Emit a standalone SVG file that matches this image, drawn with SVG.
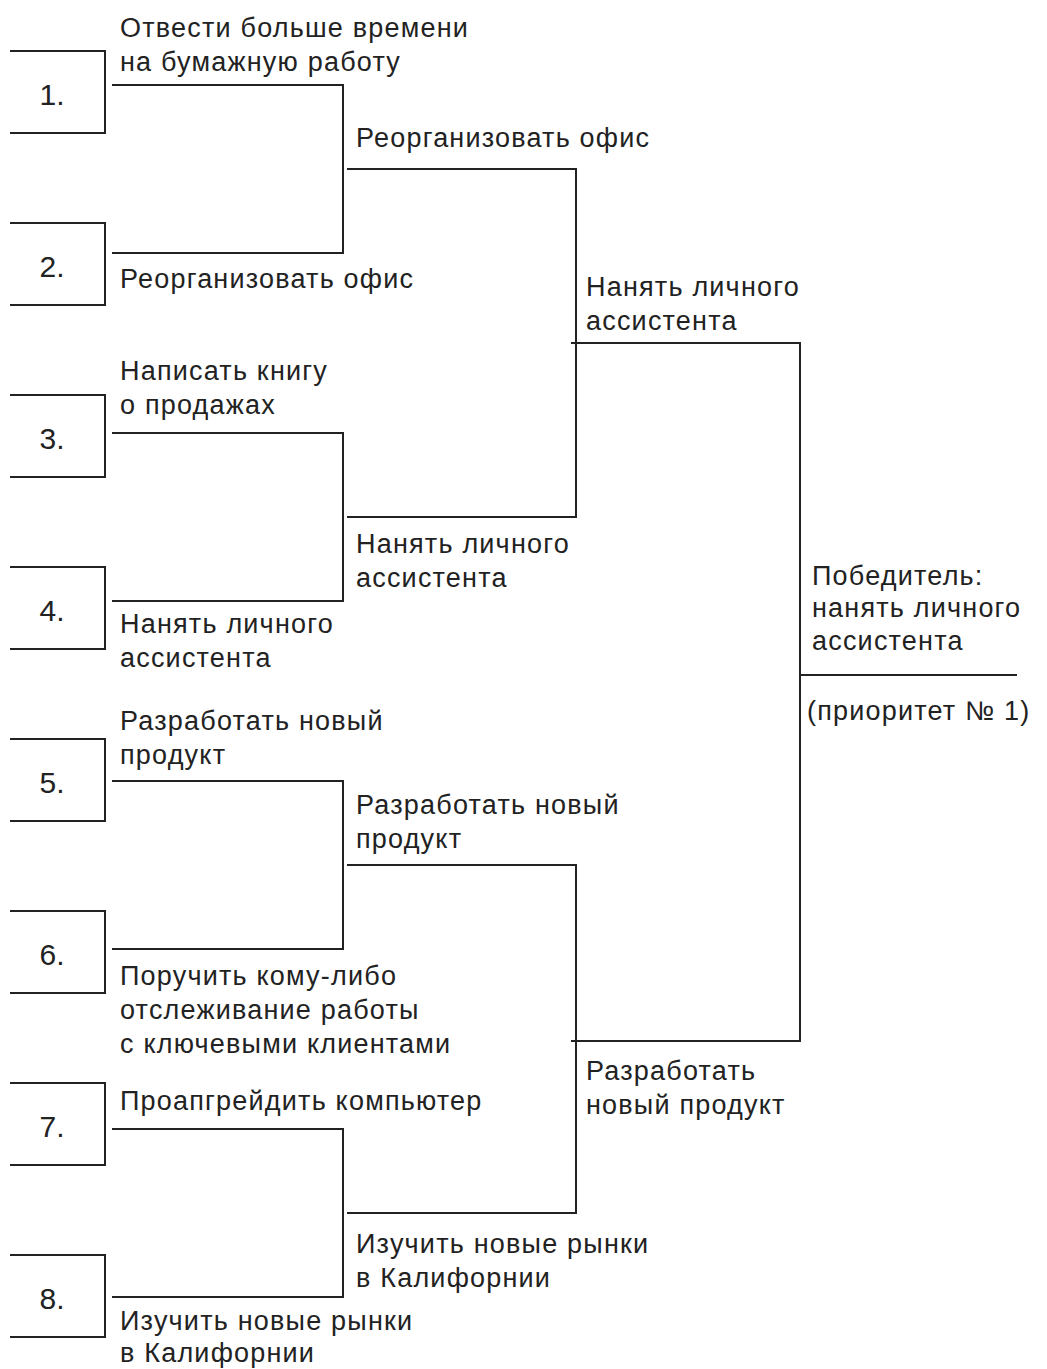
<svg xmlns="http://www.w3.org/2000/svg" width="1047" height="1369" viewBox="0 0 1047 1369">
<style>
  .ln{fill:none;stroke:#222;stroke-width:2}
  text{font-family:"Liberation Sans",Arial,sans-serif;font-size:27px;fill:#222;letter-spacing:1.2px}
  .num{font-size:30px;text-anchor:middle;letter-spacing:0}
</style>
<rect width="1047" height="1369" fill="#fff"/>
<g id="node-1"><path class="ln" d="M10,51 H105 V133 H10"/><text class="num" x="52" y="105">1.</text></g>
<g id="node-2"><path class="ln" d="M10,223 H105 V305 H10"/><text class="num" x="52" y="277">2.</text></g>
<g id="node-3"><path class="ln" d="M10,395 H105 V477 H10"/><text class="num" x="52" y="449">3.</text></g>
<g id="node-4"><path class="ln" d="M10,567 H105 V649 H10"/><text class="num" x="52" y="621">4.</text></g>
<g id="node-5"><path class="ln" d="M10,739 H105 V821 H10"/><text class="num" x="52" y="793">5.</text></g>
<g id="node-6"><path class="ln" d="M10,911 H105 V993 H10"/><text class="num" x="52" y="965">6.</text></g>
<g id="node-7"><path class="ln" d="M10,1083 H105 V1165 H10"/><text class="num" x="52" y="1137">7.</text></g>
<g id="node-8"><path class="ln" d="M10,1255 H105 V1337 H10"/><text class="num" x="52" y="1309">8.</text></g>
<g id="connectors">
  <path class="ln" d="M112,85 H343 V253 H112"/>
  <path class="ln" d="M112,433 H343 V601 H112"/>
  <path class="ln" d="M112,781 H343 V949 H112"/>
  <path class="ln" d="M112,1129 H343 V1297 H112"/>
  <path class="ln" d="M347,169 H576 V517 H347"/>
  <path class="ln" d="M347,865 H576 V1213 H347"/>
  <path class="ln" d="M571,343 H800 V1041 H571"/>
  <path class="ln" d="M800,675 H1017"/>
</g>
<g id="labels">
  <text x="120" y="37">Отвести больше времени</text>
  <text x="120" y="71">на бумажную работу</text>
  <text x="120" y="288">Реорганизовать офис</text>
  <text x="356" y="147">Реорганизовать офис</text>
  <text x="586" y="296">Нанять личного</text>
  <text x="586" y="330">ассистента</text>
  <text x="120" y="380">Написать книгу</text>
  <text x="120" y="414">о продажах</text>
  <text x="356" y="553">Нанять личного</text>
  <text x="356" y="587">ассистента</text>
  <text x="120" y="633">Нанять личного</text>
  <text x="120" y="667">ассистента</text>
  <text x="120" y="730">Разработать новый</text>
  <text x="120" y="764">продукт</text>
  <text x="356" y="814">Разработать новый</text>
  <text x="356" y="848">продукт</text>
  <text x="120" y="985">Поручить кому-либо</text>
  <text x="120" y="1019">отслеживание работы</text>
  <text x="120" y="1053">с ключевыми клиентами</text>
  <text x="586" y="1080">Разработать</text>
  <text x="586" y="1114">новый продукт</text>
  <text x="120" y="1110">Проапгрейдить компьютер</text>
  <text x="356" y="1253">Изучить новые рынки</text>
  <text x="356" y="1287">в Калифорнии</text>
  <text x="120" y="1330">Изучить новые рынки</text>
  <text x="120" y="1362">в Калифорнии</text>
  <text x="812" y="585">Победитель:</text>
  <text x="812" y="617">нанять личного</text>
  <text x="812" y="650">ассистента</text>
  <text x="807" y="720">(приоритет № 1)</text>
</g>
</svg>
